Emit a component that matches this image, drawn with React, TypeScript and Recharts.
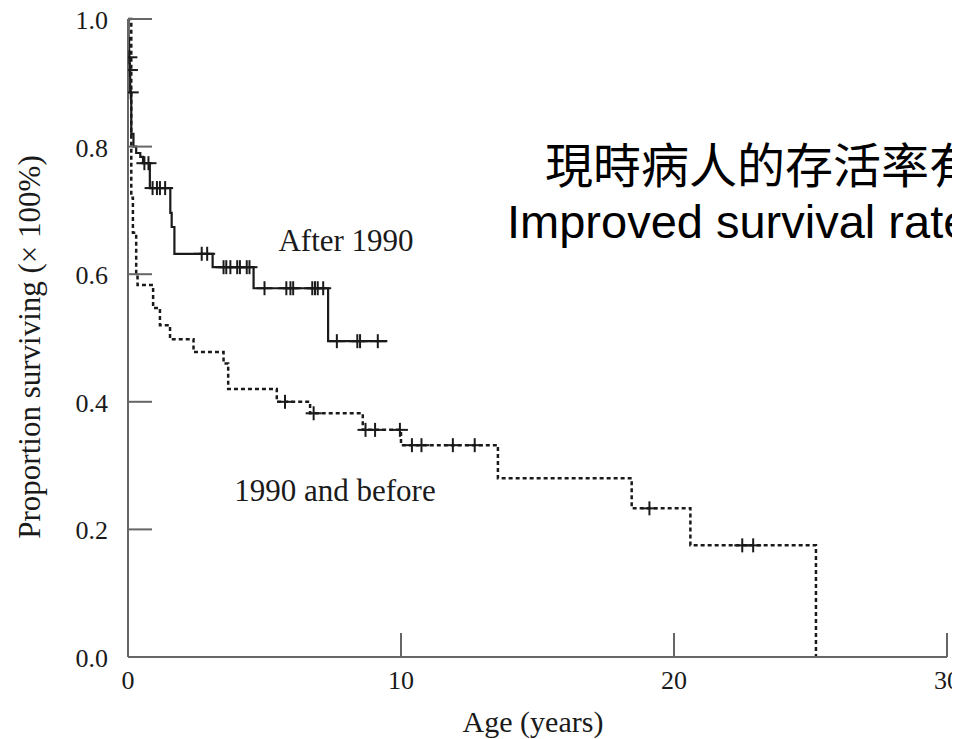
import React from "react";
import { ComposedChart, Line, XAxis, YAxis } from "recharts";

// After 1990 (solid) step points
const afterTimes = [0, 0.02, 0.04, 0.06, 0.08, 0.12, 0.2, 0.3, 0.45, 0.55, 0.8, 1.55, 1.6, 1.7, 3.1, 4.6, 7.33, 9.5];
const afterValues = [1.0, 0.97, 0.94, 0.92, 0.885, 0.82, 0.8, 0.79, 0.784, 0.774, 0.735, 0.696, 0.674, 0.632, 0.611, 0.578, 0.495, 0.495];
// After 1990 censored observations
const afterCensorTimes = [0.05, 0.07, 0.1, 0.6, 0.75, 0.9, 1.06, 1.17, 1.36, 2.7, 2.9, 3.5, 3.6, 3.75, 4.0, 4.1, 4.35, 4.45, 5.0, 5.8, 5.95, 6.05, 6.75, 6.85, 6.95, 7.15, 7.65, 8.4, 8.5, 9.15];
const afterCensorValues = [0.94, 0.92, 0.885, 0.774, 0.774, 0.735, 0.735, 0.735, 0.735, 0.632, 0.632, 0.611, 0.611, 0.611, 0.611, 0.611, 0.611, 0.611, 0.578, 0.578, 0.578, 0.578, 0.578, 0.578, 0.578, 0.578, 0.495, 0.495, 0.495, 0.495];

// 1990 and before (dotted) step points
const beforeTimes = [0, 0.12, 0.18, 0.3, 0.35, 0.92, 1.17, 1.54, 2.4, 3.5, 3.67, 5.45, 6.67, 8.6, 10.0, 13.55, 18.45, 20.6, 25.2];
const beforeValues = [1.0, 0.72, 0.665, 0.596, 0.583, 0.547, 0.52, 0.498, 0.478, 0.46, 0.42, 0.4, 0.382, 0.356, 0.332, 0.28, 0.233, 0.175, 0];
// 1990 and before censored observations
const beforeCensorTimes = [5.75, 6.8, 8.7, 9.05, 9.96, 10.4, 10.75, 11.9, 12.7, 19.1, 22.5, 22.9];
const beforeCensorValues = [0.4, 0.382, 0.356, 0.356, 0.356, 0.332, 0.332, 0.332, 0.332, 0.233, 0.175, 0.175];

const xTicks = [0, 10, 20, 30];
const yTicks = [0, 0.2, 0.4, 0.6, 0.8, 1.0];

const toPoints = (ts: number[], vs: number[]) => ts.map((t, i) => ({ t, v: vs[i] }));
const afterData = toPoints(afterTimes, afterValues);
const afterCensor = toPoints(afterCensorTimes, afterCensorValues);
const beforeData = toPoints(beforeTimes, beforeValues);
const beforeCensor = toPoints(beforeCensorTimes, beforeCensorValues);

const SERIF = "'Liberation Serif', 'Times New Roman', serif";
const AXIS = "#666";
const INK = "#1a1a1a";
const TICK_LEN = 24;

const Plus = (props: any) => {
  const { cx, cy, index } = props;
  if (cx == null || cy == null) return <g key={index} />;
  return (
    <g key={index}>
      <line x1={cx - 8} x2={cx + 8} y1={cy} y2={cy} stroke={INK} strokeWidth={2} />
      <line x1={cx} x2={cx} y1={cy - 7} y2={cy + 7} stroke={INK} strokeWidth={2} />
    </g>
  );
};

const XTick = (props: any) => {
  const { x, y, payload } = props;
  return (
    <g>
      <line x1={x} x2={x} y1={y} y2={y - TICK_LEN} stroke={AXIS} strokeWidth={2} />
      <text x={x} y={y + 32} textAnchor="middle" fontFamily={SERIF} fontSize={26} fill={INK}>
        {payload.value}
      </text>
    </g>
  );
};

const YTick = (props: any) => {
  const { x, y, payload } = props;
  return (
    <g>
      <line x1={x} x2={x + TICK_LEN} y1={y} y2={y} stroke={AXIS} strokeWidth={2} />
      <text x={x - 20} y={y + 10} textAnchor="end" fontFamily={SERIF} fontSize={26} fill={INK}>
        {Number(payload.value).toFixed(1)}
      </text>
    </g>
  );
};

export default function App() {
  return (
    <div style={{ width: 952, height: 739, background: "#fff", marginTop: -8 }}>
      <ComposedChart width={952} height={739} margin={{ top: 19, right: 13, bottom: 0, left: 0 }}>
        <XAxis
          type="number"
          dataKey="t"
          domain={[0, 30]}
          ticks={xTicks}
          interval={0}
          allowDataOverflow
          height={82}
          tickSize={0}
          tickMargin={0}
          tickLine={false}
          axisLine={{ stroke: AXIS, strokeWidth: 2 }}
          tick={<XTick />}
        />
        <YAxis
          type="number"
          dataKey="v"
          domain={[0, 1]}
          ticks={yTicks}
          interval={0}
          width={120}
          tickSize={0}
          tickMargin={0}
          tickLine={false}
          axisLine={{ stroke: AXIS, strokeWidth: 2 }}
          tick={<YTick />}
        />
        <Line
          data={beforeData}
          dataKey="v"
          type="stepAfter"
          stroke={INK}
          strokeWidth={2.5}
          strokeDasharray="4 3"
          dot={false}
          activeDot={false}
          isAnimationActive={false}
        />
        <Line
          data={afterData}
          dataKey="v"
          type="stepAfter"
          stroke={INK}
          strokeWidth={2.2}
          dot={false}
          activeDot={false}
          isAnimationActive={false}
        />
        <Line
          data={beforeCensor}
          dataKey="v"
          stroke="none"
          dot={<Plus />}
          activeDot={false}
          isAnimationActive={false}
        />
        <Line
          data={afterCensor}
          dataKey="v"
          stroke="none"
          dot={<Plus />}
          activeDot={false}
          isAnimationActive={false}
        />
        <text x={338} y={251} textAnchor="middle" fontFamily={SERIF} fontSize={31} fill={INK}>
          After 1990
        </text>
        <text x={327} y={501} textAnchor="middle" fontFamily={SERIF} fontSize={31} fill={INK}>
          1990 and before
        </text>
        <text x={525} y={732} textAnchor="middle" fontFamily={SERIF} fontSize={30} fill={INK}>
          Age (years)
        </text>
        <text
          x={32}
          y={347}
          textAnchor="middle"
          transform="rotate(-90 32 347)"
          fontFamily={SERIF}
          fontSize={31}
          fill={INK}
        >
          Proportion surviving (× 100%)
        </text>
        <text x={537} y={183} fontFamily="'Noto Sans CJK TC', 'Noto Sans CJK SC', sans-serif" fontSize={48} fill="#000">
          現時病人的存活率有
        </text>
        <text x={499} y={238} fontFamily="'Liberation Sans', Arial, sans-serif" fontSize={47} fill="#000">
          Improved survival rate
        </text>
      </ComposedChart>
    </div>
  );
}
